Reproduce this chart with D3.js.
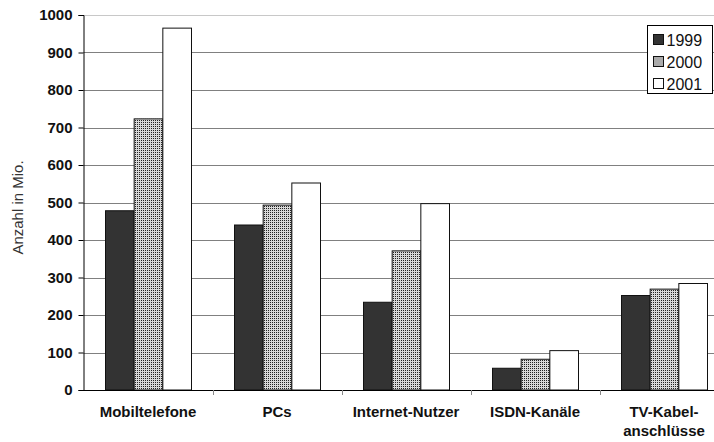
<!DOCTYPE html>
<html>
<head>
<meta charset="utf-8">
<script src="https://cdn.jsdelivr.net/npm/d3@7"></script>
<style>
  body { margin: 0; background: #fff; }
  text { font-family: "Liberation Sans", Arial, sans-serif; }
</style>
</head>
<body>
<script>
const categories = ['Mobiltelefone', 'PCs', 'Internet-Nutzer', 'ISDN-Kanäle', 'TV-Kabel-\nanschlüsse'];
const years = ['1999', '2000', '2001'];
const values1999 = [478, 440, 234, 58, 252];
const values2000 = [723, 493, 371, 82, 269];
const values2001 = [965, 552, 497, 105, 284];
const yTicks = [0, 100, 200, 300, 400, 500, 600, 700, 800, 900, 1000];

const svgWidth = 714, svgHeight = 442;
const plot = {left: 83.5, right: 728.5, top: 15, bottom: 390};

const svg = d3.select('body').append('svg')
    .attr('width', svgWidth)
    .attr('height', svgHeight);

// gepunktetes Muster für 2000
const defs = svg.append('defs');
const pat = defs.append('pattern')
    .attr('id', 'dots')
    .attr('width', 2).attr('height', 2)
    .attr('patternUnits', 'userSpaceOnUse');
pat.append('rect').attr('width', 2).attr('height', 2).attr('fill', '#d8d8d8');
pat.append('rect').attr('width', 1).attr('height', 1).attr('fill', '#222');

const fills = {'1999': '#333333', '2000': 'url(#dots)', '2001': '#ffffff'};

const data = categories.map((c, i) => ({
    cat: c,
    vals: [
        {year: '1999', v: values1999[i]},
        {year: '2000', v: values2000[i]},
        {year: '2001', v: values2001[i]}
    ]
}));

const scaleY = d3.scaleLinear().domain([0, 1000]).range([plot.bottom, plot.top]);

const x0 = d3.scaleBand()
    .domain(categories)
    .range([plot.left, plot.right])
    .paddingInner(1 / 3)
    .paddingOuter(1 / 6);

const x1 = d3.scaleBand()
    .domain(years)
    .range([0, x0.bandwidth()]);

// Gitterlinien
svg.append('g')
    .selectAll('line')
    .data(yTicks.filter(d => d > 0))
    .join('line')
    .attr('x1', plot.left).attr('x2', svgWidth)
    .attr('y1', d => Math.round(scaleY(d)) + 0.5)
    .attr('y2', d => Math.round(scaleY(d)) + 0.5)
    .attr('stroke', d => d === 1000 ? '#c8c8c8' : '#808080')
    .attr('stroke-width', 1);

// Balken
const groups = svg.append('g')
    .selectAll('g')
    .data(data)
    .join('g')
    .attr('transform', d => `translate(${x0(d.cat)},0)`);

groups.selectAll('rect')
    .data(d => d.vals)
    .join('rect')
    .attr('x', d => x1(d.year) + 0.5)
    .attr('y', d => scaleY(d.v))
    .attr('width', x1.bandwidth())
    .attr('height', d => plot.bottom - scaleY(d.v))
    .attr('fill', d => fills[d.year])
    .attr('stroke', '#111')
    .attr('stroke-width', 1);

// y-Achse
const yAxis = svg.append('g')
    .attr('transform', `translate(${plot.left},0)`)
    .call(d3.axisLeft(scaleY).tickValues(yTicks).tickFormat(d3.format('d')).tickSize(5).tickPadding(6));
yAxis.select('.domain').attr('stroke', '#000');
yAxis.selectAll('text')
    .attr('font-size', 15)
    .attr('font-weight', 'bold')
    .attr('fill', '#111')
    .style('font-family', '"Liberation Sans", Arial, sans-serif');

// x-Achse
svg.append('line')
    .attr('x1', plot.left).attr('x2', svgWidth)
    .attr('y1', plot.bottom + 0.5).attr('y2', plot.bottom + 0.5)
    .attr('stroke', '#000');

svg.append('g')
    .selectAll('line')
    .data(categories.slice(1))
    .join('line')
    .attr('x1', d => Math.round(x0(d) - x0.step() / 6) + 0.5)
    .attr('x2', d => Math.round(x0(d) - x0.step() / 6) + 0.5)
    .attr('y1', plot.bottom)
    .attr('y2', plot.bottom + 5)
    .attr('stroke', '#888');

const xLabels = svg.append('g')
    .selectAll('text')
    .data(categories)
    .join('text')
    .attr('x', d => x0(d) + x0.bandwidth() / 2)
    .attr('y', 417)
    .attr('text-anchor', 'middle')
    .attr('font-size', 15)
    .attr('font-weight', 'bold')
    .attr('fill', '#111');

xLabels.selectAll('tspan')
    .data(d => d.split('\n'))
    .join('tspan')
    .attr('x', function () { return d3.select(this.parentNode).attr('x'); })
    .attr('dy', (d, i) => i === 0 ? 0 : 19)
    .text(d => d);

// Achsentitel
svg.append('text')
    .attr('transform', `translate(23,${(plot.top + plot.bottom) / 2 + 5}) rotate(-90)`)
    .attr('text-anchor', 'middle')
    .attr('font-size', 15)
    .attr('fill', '#333')
    .text('Anzahl in Mio.');

// Legende
const legend = svg.append('g').attr('transform', 'translate(647.5,25.5)');
legend.append('rect')
    .attr('width', 65).attr('height', 68)
    .attr('fill', '#fff')
    .attr('stroke', '#000');

const items = legend.selectAll('g.item')
    .data(years)
    .join('g')
    .attr('class', 'item')
    .attr('transform', (d, i) => `translate(6,${9 + i * 22})`);

items.append('rect')
    .attr('width', 10).attr('height', 10)
    .attr('fill', d => fills[d])
    .attr('stroke', '#111');

items.append('text')
    .attr('x', 13).attr('y', 11)
    .attr('font-size', 16)
    .attr('fill', '#111')
    .text(d => d);
</script>
</body>
</html>
